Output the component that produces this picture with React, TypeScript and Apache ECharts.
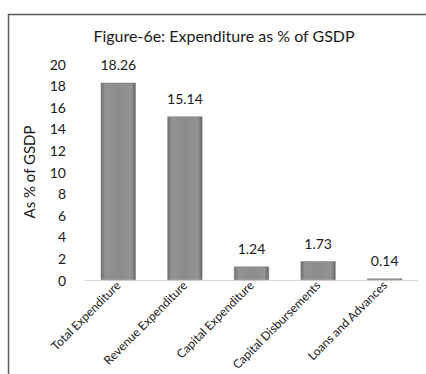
import React, { useEffect, useRef } from "react";
import * as echarts from "echarts";

const categories = [
  "Total Expenditure",
  "Revenue Expenditure",
  "Capital Expenditure",
  "Capital Disbursements",
  "Loans and Advances",
];
const values = [18.26, 15.14, 1.24, 1.73, 0.14];
const titleText = "Figure-6e: Expenditure as % of GSDP";
const yAxisName = "As % of GSDP";

const FONT = "Lato, 'Open Sans', sans-serif";

export default function App() {
  const ref = useRef<HTMLDivElement>(null);
  useEffect(() => {
    if (!ref.current) return;
    const chart = echarts.init(ref.current, undefined, { renderer: "svg" });
    chart.setOption({
      animation: false,
      backgroundColor: "#ffffff",
      title: {
        text: titleText,
        left: 219,
        textAlign: "center",
        top: 22,
        textStyle: { fontFamily: FONT, fontSize: 16, fontWeight: "normal", color: "#1a1a1a" },
      },
      graphic: [
        {
          type: "polyline",
          shape: { points: [[8.5, 374], [8.5, 14.5], [426, 14.5]] },
          style: { stroke: "#5a5a5a", lineWidth: 1.5, fill: "none" },
          silent: true,
        },
      ],
      grid: { left: 85, right: 8, top: 64, bottom: 94, containLabel: false, outerBoundsMode: "none" },
      xAxis: {
        type: "category",
        data: categories,
        axisLine: { lineStyle: { color: "#d9d9d9", width: 1 } },
        axisTick: { show: false },
        axisLabel: {
          rotate: 45,
          interval: 0,
          margin: 3,
          fontFamily: FONT,
          fontSize: 12,
          color: "#1a1a1a",
        },
      },
      yAxis: {
        type: "value",
        min: 0,
        max: 20,
        interval: 2,
        name: yAxisName,
        nameLocation: "middle",
        nameGap: 49,
        nameRotate: 90,
        nameTextStyle: { fontFamily: FONT, fontSize: 15, color: "#1a1a1a" },
        axisLine: { show: false },
        axisTick: { show: false },
        splitLine: { show: false },
        axisLabel: { margin: 19, fontFamily: FONT, fontSize: 14, color: "#1a1a1a" },
      },
      series: [
        {
          type: "bar",
          data: values,
          barWidth: 35,
          itemStyle: {
            color: new echarts.graphic.LinearGradient(0, 0, 1, 0, [
              { offset: 0, color: "#6e6e6e" },
              { offset: 0.12, color: "#939393" },
              { offset: 0.5, color: "#8c8c8c" },
              { offset: 0.88, color: "#939393" },
              { offset: 1, color: "#666666" },
            ]),
            borderColor: "#7a7a7a",
            borderWidth: 0.5,
          },
          label: {
            show: true,
            position: "top",
            distance: 11,
            fontFamily: FONT,
            fontSize: 14,
            color: "#1a1a1a",
            formatter: (p: any) => p.value.toFixed(2),
          },
        },
      ],
    });
    return () => chart.dispose();
  }, []);
  return (
    <div
      ref={ref}
      style={{ position: "fixed", left: 0, top: 0, width: 426, height: 374 }}
    />
  );
}
